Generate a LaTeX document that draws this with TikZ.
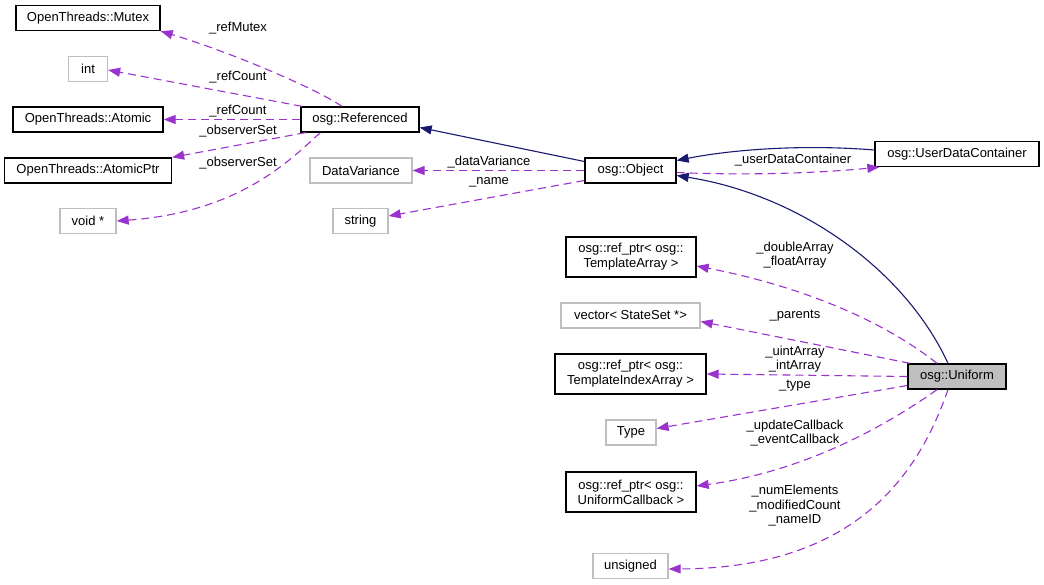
\documentclass[tikz,border=0pt]{standalone}
\usepackage{fontspec}
\setmainfont{Liberation Sans}
\usetikzlibrary{arrows.meta}

\definecolor{dorchid}{RGB}{154,50,205}
\definecolor{navy}{RGB}{25,25,112}
\definecolor{boxgray}{RGB}{191,191,191}

\tikzset{
	>={Triangle[length=12pt,width=9pt]},
	cls/.style={draw=black, line width=1.3pt, minimum height=25, inner xsep=6, font=\fontsize{13}{15}\selectfont, align=center},
	ext/.style={cls, draw=boxgray},
	usage/.style={dorchid, line width=1.1pt, dash pattern=on 8pt off 5pt},
	inherit/.style={navy, line width=1.1pt},
	lbl/.style={font=\fontsize{13}{14.5}\selectfont, align=center, inner sep=0}
}

\begin{document}
\begin{tikzpicture}[x=1pt,y=-1pt]
		\useasboundingbox (0,0) rectangle (1044,585);
		
		\node[cls, minimum width=144] (mutex) at (88,18) {OpenThreads::Mutex};
		\node[ext, minimum width=39] (int) at (88,69) {int};
		\node[cls, minimum width=150] (atomic) at (88,119.5) {OpenThreads::Atomic};
		\node[cls, minimum width=167] (atomicptr) at (88,170.5) {OpenThreads::AtomicPtr};
		\node[ext, minimum width=56] (voidp) at (88,221) {void *};
		
		\node[cls, minimum width=118] (ref) at (360,119.5) {osg::Referenced};
		\node[ext, minimum width=102] (dv) at (361,170.5) {DataVariance};
		\node[ext, minimum width=55] (str) at (360.5,221) {string};
		
		\node[cls, minimum width=91] (obj) at (630.5,170.5) {osg::Object};
		\node[cls, minimum width=164] (udc) at (957,154) {osg::UserDataContainer};
		
		\node[cls, minimum width=130, minimum height=40] (ta) at (631,257) {osg::ref\_ptr< osg::\\TemplateArray >};
		\node[ext, minimum width=139] (vec) at (630.5,315.5) {vector< StateSet *>};
		\node[cls, minimum width=151, minimum height=40] (tia) at (630.5,374) {osg::ref\_ptr< osg::\\TemplateIndexArray >};
		\node[ext, minimum width=50] (type) at (631,432.5) {Type};
		\node[cls, minimum width=130, minimum height=40] (cb) at (631,492) {osg::ref\_ptr< osg::\\UniformCallback >};
		\node[ext, minimum width=75] (uns) at (630.5,566) {unsigned};
		
		\node[cls, fill=boxgray, minimum width=98] (uni) at (957,376.5) {osg::Uniform};
		
		% osg::Referenced members
		\draw[usage, arrows=->] ([xshift=-18]ref.north) .. controls (315,88) and (230,52) .. (mutex.south east);
		\draw[usage, arrows=->] ([xshift=-58]ref.north) -- ([yshift=-1]int.east);
		\draw[usage, arrows=->] (ref.west) -- (atomic.east);
		\draw[usage, arrows=->] ([xshift=5]ref.south west) -- (atomicptr.north east);
		\draw[usage, arrows=->] ([xshift=20]ref.south west) .. controls (290,160) and (240,212) .. (voidp.east);
		\node[lbl] (l1) at (238,28) {\_refMutex};
		\node[lbl] (l2) at (238,77) {\_refCount};
		\node[lbl] (l3) at (238,111) {\_refCount};
		\node[lbl] (l4) at (238,131) {\_observerSet};
		\node[lbl] (l5) at (238,163) {\_observerSet};
		
		% osg::Object
		\draw[inherit, arrows=->] ([yshift=9]obj.west) -- ([yshift=-8]ref.east);
		\draw[usage, arrows=->] (obj.west) -- (dv.east);
		\draw[usage, arrows=->] ([yshift=-10]obj.west) -- ([yshift=5]str.east);
		\draw[inherit, arrows=->] ([yshift=4]udc.west) .. controls (800,144) and (730,150) .. ([yshift=10]obj.east);
		\draw[usage, arrows=->] ([yshift=-2]obj.east) .. controls (760,176) and (830,172) .. ([xshift=5]udc.south west);
		\node[lbl] (l6) at (489,162) {\_dataVariance};
		\node[lbl] (l7) at (489,182) {\_name};
		\node[lbl] (l8) at (793,160) {\_userDataContainer};
		
		% osg::Uniform
		\draw[inherit, arrows=->] ([xshift=-9]uni.north) .. controls (905,270) and (800,195) .. ([yshift=-5]obj.east);
		\draw[usage, arrows=->] ([xshift=-20]uni.north) .. controls (895,330) and (820,290) .. ([yshift=-9]ta.east);
		\draw[usage, arrows=->] ([xshift=-47]uni.north) -- ([yshift=-6]vec.east);
		\draw[usage, arrows=->] (uni.west) -- (tia.east);
		\draw[usage, arrows=->] ([yshift=-9]uni.west) -- ([yshift=4]type.east);
		\draw[usage, arrows=->] ([xshift=-20]uni.south) .. controls (880,430) and (800,472) .. ([yshift=6]cb.east);
		\draw[usage, arrows=->] ([xshift=-9]uni.south) .. controls (920,470) and (860,568) .. ([yshift=-3]uns.east);
		\node[lbl] (l9) at (795,255) {\_doubleArray\\\_floatArray};
		\node[lbl] (l10) at (795,316) {\_parents};
		\node[lbl] (l11) at (795,359) {\_uintArray\\\_intArray};
		\node[lbl] (l12) at (795,386) {\_type};
		\node[lbl] (l13) at (795,433) {\_updateCallback\\\_eventCallback};
		\node[lbl] (l14) at (795,506) {\_numElements\\\_modifiedCount\\\_nameID};
		
\end{tikzpicture}
\end{document}
